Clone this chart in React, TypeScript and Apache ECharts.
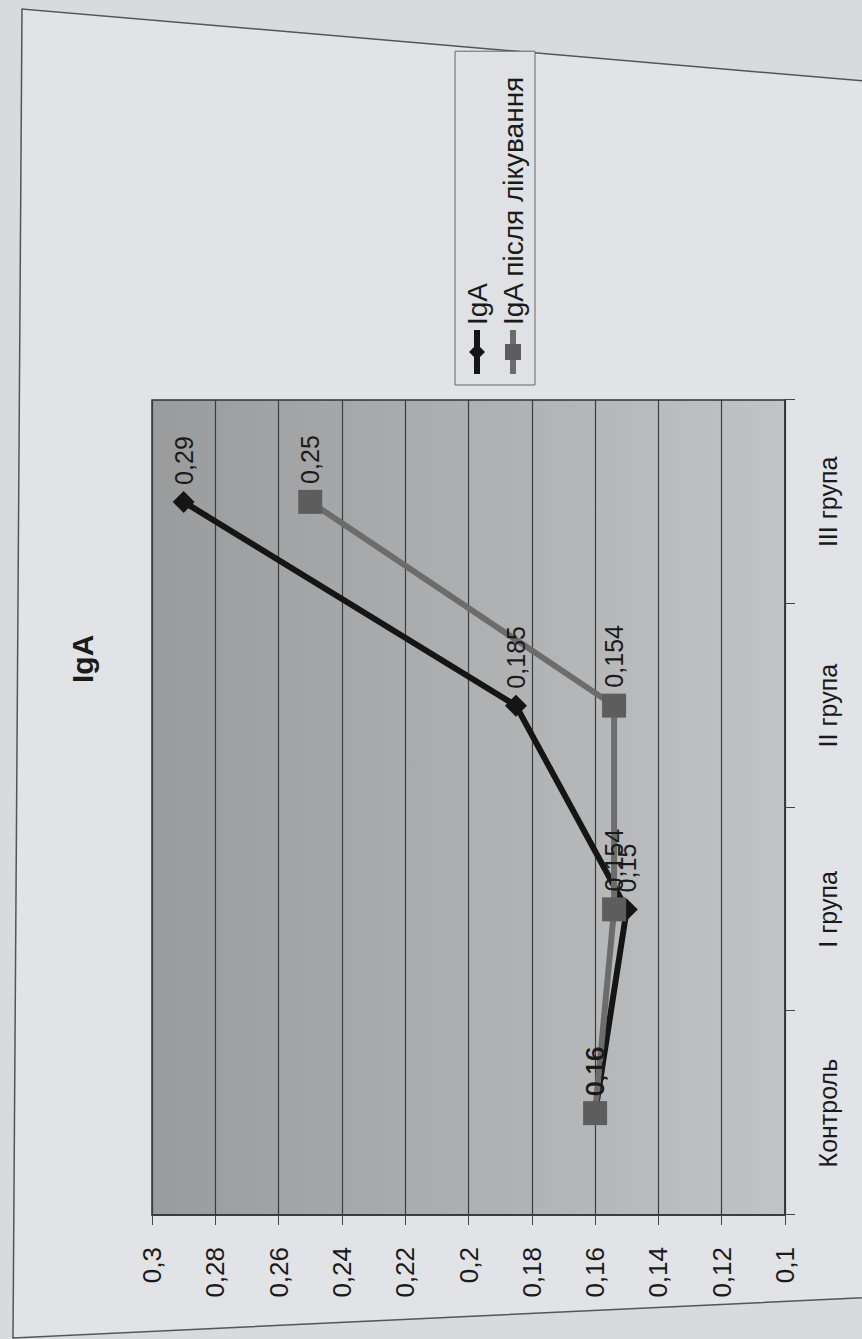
import React, { useEffect, useRef } from "react";
import * as echarts from "echarts";

const categories = ["Контроль", "I група", "II група", "III група"];
const igA = [0.16, 0.15, 0.185, 0.29];
const igAAfter = [0.16, 0.154, 0.154, 0.25];
const seriesNames = ["IgA", "IgA після лікування"];
const titleText = "IgA";
const valueMin = 0.1;
const valueMax = 0.3;
const valueStep = 0.02;

const W = 1339;
const H = 862;
const FONT = "'Liberation Sans', Arial, sans-serif";

export default function App() {
  const ref = useRef<HTMLDivElement>(null);
  useEffect(() => {
    const chart = echarts.init(ref.current!, null, { renderer: "svg", width: W, height: H });
    const fmt = (v: number) => String(+Number(v).toFixed(3)).replace(".", ",");
    chart.setOption({
      animation: false,
      backgroundColor: "transparent",
      title: {
        text: titleText,
        left: 651,
        top: 62,
        textStyle: { fontFamily: FONT, fontSize: 30, fontWeight: "bold", color: "#1a1a1a" },
      },
      legend: {
        orient: "vertical",
        left: 954,
        top: 455,
        itemWidth: 44,
        itemHeight: 20,
        itemGap: 8,
        padding: [8, 24, 8, 8],
        backgroundColor: "#dfe1e4",
        borderColor: "#666",
        borderWidth: 1,
        lineStyle: { width: 6 },
        textStyle: { fontFamily: FONT, fontSize: 28, color: "#1a1a1a" },
        data: seriesNames,
      },
      graphic: [
        {
          type: "polygon",
          shape: {
            points: [
              [1, 13],
              [1330, 22],
              [1255, 900],
              [43, 900],
            ],
          },
          style: { fill: "#e2e3e6", stroke: "#555", lineWidth: 1.5 },
          z: -10,
          silent: true,
        },
      ],
      grid: {
        left: 124,
        right: 400,
        top: 152,
        bottom: 77,
        show: true,
        borderColor: "#333",
        borderWidth: 1.5,
        backgroundColor: new echarts.graphic.LinearGradient(0, 0, 0, 1, [
          { offset: 0, color: "#9a9b9c" },
          { offset: 1, color: "#c2c3c4" },
        ]),
      },
      xAxis: {
        type: "category",
        data: categories,
        boundaryGap: true,
        axisLine: { show: true, lineStyle: { color: "#333", width: 1.5 } },
        axisTick: { show: true, length: 10, lineStyle: { color: "#444" } },
        axisLabel: { margin: 30, fontFamily: FONT, fontSize: 25, color: "#1a1a1a" },
      },
      yAxis: {
        type: "value",
        min: valueMin,
        max: valueMax,
        interval: valueStep,
        axisLine: { show: true, lineStyle: { color: "#333", width: 1.5 } },
        axisTick: { show: true, length: 10, lineStyle: { color: "#444" } },
        splitLine: { show: true, lineStyle: { color: "#3c3c3c", width: 1.2 } },
        axisLabel: { margin: 32, fontFamily: FONT, fontSize: 26, color: "#1a1a1a", formatter: fmt },
      },
      series: [
        {
          name: seriesNames[0],
          type: "line",
          data: igA,
          symbol: "diamond",
          symbolSize: 22,
          z: 2,
          lineStyle: { color: "#151515", width: 6 },
          itemStyle: { color: "#151515" },
          label: {
            show: true,
            position: "right",
            distance: 6,
            fontFamily: FONT,
            fontSize: 25,
            color: "#1a1a1a",
            formatter: (p: any) => fmt(p.value),
          },
        },
        {
          name: seriesNames[1],
          type: "line",
          data: igAAfter,
          symbol: "rect",
          symbolSize: 24,
          z: 2,
          lineStyle: { color: "#6c6c6c", width: 6 },
          itemStyle: { color: "#5d5d5d" },
          label: {
            show: true,
            position: "right",
            distance: 6,
            fontFamily: FONT,
            fontSize: 25,
            color: "#1a1a1a",
            formatter: (p: any) => fmt(p.value),
          },
        },
      ],
    });
    return () => chart.dispose();
  }, []);
  return (
    <div
      style={{
        position: "absolute",
        left: 0,
        top: 0,
        width: 862,
        height: 1339,
        overflow: "hidden",
        background: "#d8dadd",
      }}
    >
      <div
        ref={ref}
        style={{
          position: "absolute",
          left: 0,
          top: 0,
          width: W,
          height: H,
          transformOrigin: "0 0",
          transform: `translateY(${W}px) rotate(-90deg)`,
        }}
      />
    </div>
  );
}
